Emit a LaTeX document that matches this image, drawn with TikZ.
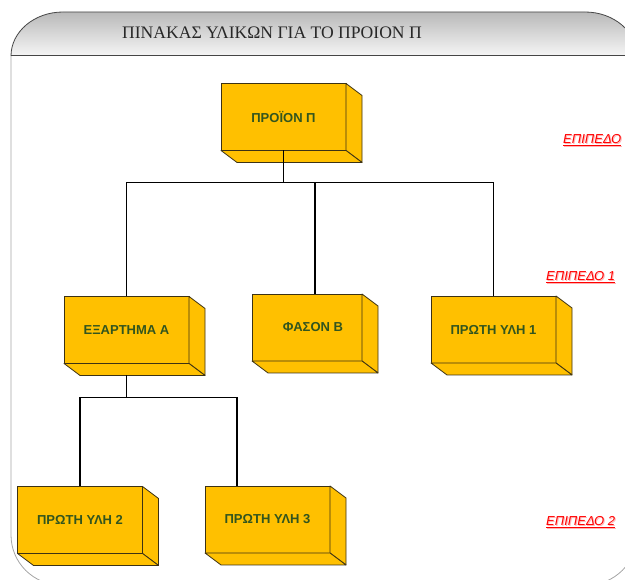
\documentclass[tikz,border=0pt]{standalone}
\usepackage{fontspec}
\setmainfont{Liberation Serif}
\newfontfamily\boxfont{Liberation Sans}
\usetikzlibrary{calc}
\definecolor{boxfill}{RGB}{255,192,0}
\definecolor{boxtext}{RGB}{50,85,30}
\definecolor{edgecol}{RGB}{60,50,20}
\definecolor{framegray}{RGB}{165,165,165}
\definecolor{headline}{RGB}{70,70,70}
\begin{document}
\begin{tikzpicture}[x=1pt,y=-1pt,
  stepbox/.style={draw=edgecol, line width=0.8pt, fill=boxfill,
    minimum width=125pt, minimum height=67pt, inner sep=0pt, outer sep=0pt,
    font=\boxfont\bfseries\fontsize{13}{14}\selectfont, text=boxtext},
  depthface/.style={draw=edgecol, line width=0.8pt, fill=boxfill, line join=round},
  link/.style={line width=1.4pt, black},
  level/.style={font=\boxfont\itshape\fontsize{13}{14}\selectfont, text=red,
    anchor=west, inner sep=0pt},
  levelglow/.style={level, text=red!30},
]
\useasboundingbox (0,0) rectangle (625,580);
\clip (0,0) rectangle (625,580);

% outer frame
\draw[framegray, line width=0.8pt, rounded corners=50pt]
  (11,56) -- (11,585) -- (637,585) -- (637,56);

% title band
\shade[top color={rgb,255:red,185;green,185;blue,185}, bottom color={rgb,255:red,246;green,246;blue,246}]
  (11,56) arc[start angle=180, end angle=270, x radius=52, y radius=44]
  -- (585,12) arc[start angle=270, end angle=360, x radius=52, y radius=44] -- cycle;
\draw[headline, line width=0.8pt]
  (11,56) arc[start angle=180, end angle=270, x radius=52, y radius=44]
  -- (585,12) arc[start angle=270, end angle=360, x radius=52, y radius=44];
\draw[headline, line width=1pt] (11,56) -- (637,56);
\node[text={rgb,255:red,40;green,40;blue,40}, font=\fontsize{17.6}{20}\selectfont]
  (title) at (272,33) {ΠΙΝΑΚΑΣ ΥΛΙΚΩΝ ΓΙΑ ΤΟ ΠΡΟΙΟΝ Π};

% component boxes (front faces)
\node[stepbox] (root) at (283.5,117) {ΠΡΟΪΟΝ Π};
\node[stepbox] (A)    at (126.5,330) {ΕΞΑΡΤΗΜΑ Α};
\node[stepbox, minimum width=110pt] (B) at (307,327.5) {\hspace*{12pt}ΦΑΣΟΝ Β};
\node[stepbox] (P1)   at (493.5,329.5) {ΠΡΩΤΗ ΥΛΗ 1};
\node[stepbox] (P2)   at (80,520) {ΠΡΩΤΗ ΥΛΗ 2};
\node[stepbox] (P3)   at (267.5,519.5) {ΠΡΩΤΗ ΥΛΗ 3};

% depth faces
\foreach \n in {root,A,B,P1,P2,P3} {
  \filldraw[depthface] (\n.north east) -- ($(\n.north east)+(16,12)$)
    -- ($(\n.south east)+(16,12)$) -- (\n.south east) -- cycle;
  \filldraw[depthface] (\n.south west) -- ($(\n.south west)+(16,12)$)
    -- ($(\n.south east)+(16,12)$) -- (\n.south east) -- cycle;
}

% tree links
\draw[link] (root.south) -- ++(0,32) coordinate (j0);
\draw[link] (A.north) |- (j0);
\draw[link] (B.north -| 315,0) |- (j0);
\draw[link] (P1.north) |- (j0);
\draw[link] ($(A.south)+(0,12)$) -- ++(0,22) coordinate (j1);
\draw[link] (P2.north) |- (j1);
\draw[link] (P3.north -| 237,0) |- (j1);

% level labels
\node[levelglow] (lv0s) at (564,141) {\underline{ΕΠΙΠΕΔΟ}};
\node[level]     (lv0)  at (563,140) {\underline{ΕΠΙΠΕΔΟ}};
\node[levelglow] (lv1s) at (547,278) {\underline{ΕΠΙΠΕΔΟ 1}};
\node[level]     (lv1)  at (546,277) {\underline{ΕΠΙΠΕΔΟ 1}};
\node[levelglow] (lv2s) at (547,523) {\underline{ΕΠΙΠΕΔΟ 2}};
\node[level]     (lv2)  at (546,522) {\underline{ΕΠΙΠΕΔΟ 2}};
\end{tikzpicture}
\end{document}
